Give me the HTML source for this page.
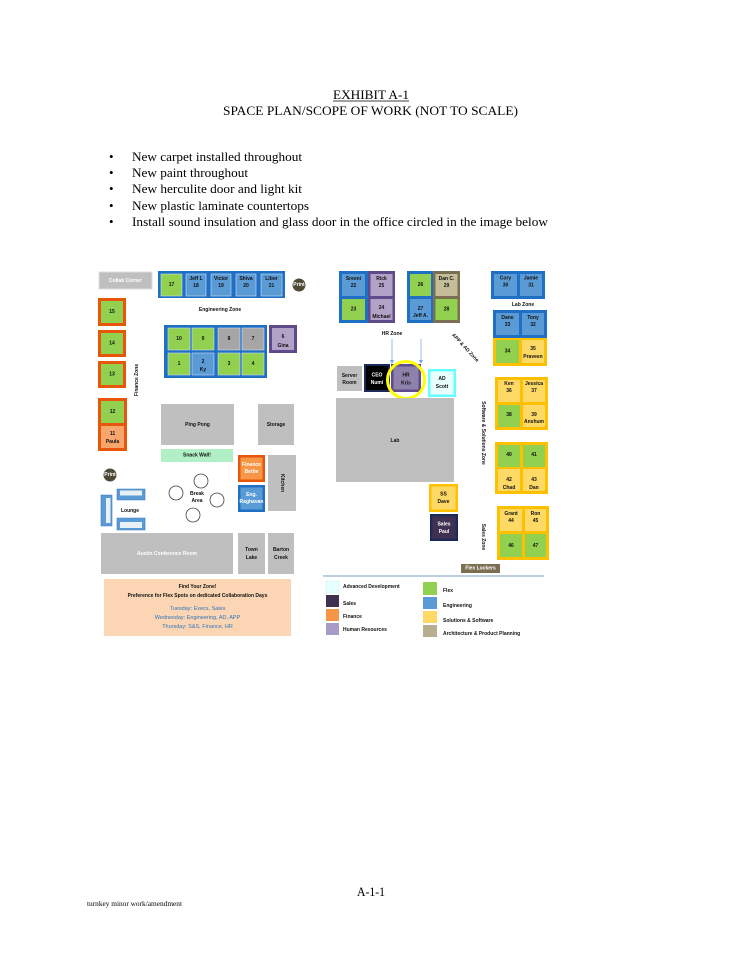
<!DOCTYPE html>
<html><head><meta charset="utf-8"><style>
html,body{margin:0;padding:0;background:#fff;}
svg{display:block;}
.s{font-family:"Liberation Serif",serif;fill:#000;}
.t{font-family:"Liberation Sans",sans-serif;font-size:5px;font-weight:bold;text-anchor:middle;dominant-baseline:central;fill:#111;}
.w{fill:#fff;}
.l{font-family:"Liberation Sans",sans-serif;font-size:5px;font-weight:bold;dominant-baseline:central;fill:#111;}
.b{fill:#2e75b6;font-weight:normal;font-size:5.5px;}
</style></head><body>
<svg width="742" height="960" viewBox="0 0 742 960" xmlns="http://www.w3.org/2000/svg">
<!-- Header -->
<text class="s" x="371" y="99" font-size="13" text-anchor="middle" textLength="76" lengthAdjust="spacingAndGlyphs">EXHIBIT A-1</text>
<line x1="333" y1="101" x2="409" y2="101" stroke="#000" stroke-width="0.8"/>
<text class="s" x="223" y="115" font-size="13" textLength="295" lengthAdjust="spacingAndGlyphs">SPACE PLAN/SCOPE OF WORK (NOT TO SCALE)</text>
<g class="s" font-size="13">
<text x="109" y="161">•</text><text x="132" y="161" textLength="170" lengthAdjust="spacingAndGlyphs">New carpet installed throughout</text>
<text x="109" y="177">•</text><text x="132" y="177" textLength="116" lengthAdjust="spacingAndGlyphs">New paint throughout</text>
<text x="109" y="193">•</text><text x="132" y="193" textLength="170" lengthAdjust="spacingAndGlyphs">New herculite door and light kit</text>
<text x="109" y="210">•</text><text x="132" y="210" textLength="177" lengthAdjust="spacingAndGlyphs">New plastic laminate countertops</text>
<text x="109" y="226">•</text><text x="132" y="226" textLength="416" lengthAdjust="spacingAndGlyphs">Install sound insulation and glass door in the office circled in the image below</text>
</g>
<!-- Footer -->
<text class="s" x="357" y="896" font-size="13" textLength="28" lengthAdjust="spacingAndGlyphs">A-1-1</text>
<text class="s" x="87" y="906" font-size="7" textLength="95" lengthAdjust="spacingAndGlyphs">turnkey minor work/amendment</text>

<!-- LEFT PLAN -->
<rect x="99" y="272" width="53" height="17" fill="#bfbfbf" stroke="#dcdcdc" stroke-width="1"/>
<text class="t w" x="125.5" y="281">Collab Corner</text>
<!-- top strip -->
<rect x="158" y="271" width="127" height="27" fill="#1f6fc5"/>
<g stroke="#cfe0f0" stroke-width="0.6">
<rect x="161" y="274" width="21" height="22" fill="#92d050"/>
<rect x="186" y="274" width="20" height="22" fill="#5b9bd5"/>
<rect x="211" y="274" width="20" height="22" fill="#5b9bd5"/>
<rect x="236" y="274" width="20" height="22" fill="#5b9bd5"/>
<rect x="261" y="274" width="21" height="22" fill="#5b9bd5"/>
</g>
<text class="t" x="171.5" y="285">17</text>
<text class="t" x="196" y="279">Jeff L</text><text class="t" x="196" y="286">18</text>
<text class="t" x="221" y="279">Victor</text><text class="t" x="221" y="286">19</text>
<text class="t" x="246" y="279">Shiva</text><text class="t" x="246" y="286">20</text>
<text class="t" x="271.5" y="279">Libor</text><text class="t" x="271.5" y="286">21</text>
<circle cx="299" cy="285" r="6.5" fill="#4f4a36"/>
<text class="t w" x="299" y="285" font-size="3.5">Print</text>
<text class="t" x="220" y="310" font-size="5.5">Engineering Zone</text>
<!-- finance column -->
<rect x="98" y="298" width="28" height="28" fill="#e8560c"/><rect x="101" y="301" width="22" height="22" fill="#92d050"/>
<text class="t" x="112" y="312">15</text>
<rect x="98" y="330" width="28" height="27" fill="#e8560c"/><rect x="101" y="333" width="22" height="21" fill="#92d050"/>
<text class="t" x="112" y="343.5">14</text>
<rect x="98" y="361" width="28" height="27" fill="#e8560c"/><rect x="101" y="364" width="22" height="21" fill="#92d050"/>
<text class="t" x="112" y="374.5">13</text>
<rect x="98" y="398" width="29" height="53" fill="#e8560c"/>
<rect x="101" y="401" width="23" height="22" fill="#92d050"/>
<rect x="101" y="426" width="23" height="22" fill="#f9a66c"/>
<text class="t" x="112.5" y="412">12</text>
<text class="t" x="112.5" y="434">11</text><text class="t" x="112.5" y="442">Paula</text>
<text class="t" x="137" y="380" font-size="5.5" transform="rotate(-90 137 380)">Finance Zone</text>
<!-- eng block -->
<rect x="164" y="325" width="103" height="53" fill="#1f6fc5"/>
<g stroke="#cfe0f0" stroke-width="0.6">
<rect x="168" y="328" width="22" height="22" fill="#92d050"/>
<rect x="192" y="328" width="22" height="22" fill="#92d050"/>
<rect x="218" y="328" width="22" height="22" fill="#a6a6a6"/>
<rect x="242" y="328" width="22" height="22" fill="#a6a6a6"/>
<rect x="168" y="353" width="22" height="22" fill="#92d050"/>
<rect x="192" y="353" width="22" height="22" fill="#5b9bd5"/>
<rect x="218" y="353" width="22" height="22" fill="#92d050"/>
<rect x="242" y="353" width="22" height="22" fill="#92d050"/>
</g>
<text class="t" x="179" y="339">10</text><text class="t" x="203" y="339">9</text>
<text class="t" x="229" y="339">8</text><text class="t" x="253" y="339">7</text>
<text class="t" x="179" y="364">1</text><text class="t" x="203" y="362">2</text><text class="t" x="203" y="370">Ky</text>
<text class="t" x="229" y="364">3</text><text class="t" x="253" y="364">4</text>
<rect x="269" y="325" width="28" height="28" fill="#5f4b8b"/><rect x="272" y="328" width="22" height="22" fill="#b3a2c7"/>
<text class="t" x="283" y="337">6</text><text class="t" x="283" y="346">Gina</text>
<!-- rooms -->
<rect x="161" y="404" width="73" height="41" fill="#bfbfbf"/>
<text class="t" x="197.5" y="425">Ping Pong</text>
<rect x="258" y="404" width="36" height="41" fill="#bfbfbf"/>
<text class="t" x="276" y="425">Storage</text>
<rect x="161" y="449" width="72" height="13" fill="#b1f0c5"/>
<text class="t" x="197" y="455.5">Snack Wall!</text>
<rect x="238" y="455" width="27" height="27" fill="#e8560c"/><rect x="240.5" y="457.5" width="22" height="22" fill="#f79646"/>
<text class="t w" x="251.5" y="465">Finance</text><text class="t w" x="251.5" y="472">Bettie</text>
<rect x="238" y="485" width="27" height="27" fill="#1f6fc5"/><rect x="240.5" y="487.5" width="22" height="22" fill="#5b9bd5"/>
<text class="t w" x="251.5" y="495">Eng.</text><text class="t w" x="251.5" y="502" font-size="3.5">Raghavan</text>
<rect x="268" y="455" width="28" height="56" fill="#bfbfbf"/>
<text class="t" x="282" y="483" transform="rotate(90 282 483)">Kitchen</text>
<!-- break area -->
<g fill="#fff" stroke="#404040" stroke-width="0.8">
<circle cx="201" cy="481" r="7"/><circle cx="176" cy="493" r="7"/>
<circle cx="217" cy="500" r="7"/><circle cx="193" cy="515" r="7"/>
</g>
<text class="t" x="197" y="494" font-weight="normal">Break</text><text class="t" x="197" y="501" font-weight="normal">Area</text>
<!-- print 2 -->
<circle cx="110" cy="475" r="6.5" fill="#4f4a36"/>
<text class="t w" x="110" y="475" font-size="3.5">Print</text>
<!-- lounge -->
<g fill="#5b9bd5" stroke="#3a78bd" stroke-width="0.6">
<path d="M117 489 h28 v11 h-28 z"/>
<path d="M101 495 h11 v31 h-11 z"/>
<path d="M117 518 h28 v12 h-28 z"/>
</g>
<rect x="120" y="490.5" width="22" height="5" fill="#e8f0f8"/>
<rect x="106" y="498" width="4.5" height="25" fill="#e8f0f8"/>
<rect x="120" y="522" width="22" height="6" fill="#e8f0f8"/>
<text class="t" x="130" y="511">Lounge</text>
<!-- conference -->
<rect x="101" y="533" width="132" height="41" fill="#bfbfbf"/>
<text class="t w" x="167" y="554">Austin Conference Room</text>
<rect x="238" y="533" width="27" height="41" fill="#bfbfbf"/>
<text class="t" x="251.5" y="550">Town</text><text class="t" x="251.5" y="558">Lake</text>
<rect x="268" y="533" width="26" height="41" fill="#bfbfbf"/>
<text class="t" x="281" y="550">Barton</text><text class="t" x="281" y="558">Creek</text>
<!-- find your zone -->
<rect x="104" y="579" width="187" height="57" fill="#fcd5b4"/>
<text class="t" x="197.5" y="587" font-size="5.5">Find Your Zone!</text>
<text class="t" x="197.5" y="596" font-size="5.5">Preference for Flex Spots on dedicated Collaboration Days</text>
<text class="t b" x="197.5" y="609">Tuesday: Execs, Sales</text>
<text class="t b" x="197.5" y="618">Wednesday: Engineering, AD, APP</text>
<text class="t b" x="197.5" y="627">Thursday: S&amp;S, Finance, HR</text>

<!-- RIGHT PLAN -->
<rect x="339" y="271" width="29" height="52" fill="#1f6fc5"/>
<rect x="342" y="274" width="23" height="22" fill="#5b9bd5"/><rect x="342" y="299" width="23" height="21" fill="#92d050"/>
<text class="t" x="353.5" y="279">Sreeni</text><text class="t" x="353.5" y="286">22</text>
<text class="t" x="353.5" y="309.5">23</text>
<rect x="368" y="271" width="27" height="52" fill="#5f4b8b"/>
<rect x="370.5" y="274" width="22" height="22" fill="#b3a2c7"/><rect x="370.5" y="299" width="22" height="21" fill="#b3a2c7"/>
<text class="t" x="381.5" y="279">Rick</text><text class="t" x="381.5" y="286">25</text>
<text class="t" x="381.5" y="308">24</text><text class="t" x="381.5" y="317">Michael</text>
<rect x="407" y="271" width="26" height="52" fill="#1f6fc5"/>
<rect x="410" y="274" width="21" height="22" fill="#92d050"/><rect x="410" y="299" width="21" height="21" fill="#5b9bd5"/>
<text class="t" x="420.5" y="285">26</text>
<text class="t" x="420.5" y="309">27</text><text class="t" x="420.5" y="316">Jeff A.</text>
<rect x="433" y="271" width="27" height="52" fill="#7b6f52"/>
<rect x="435.5" y="274" width="22" height="22" fill="#c4bd97"/><rect x="435.5" y="299" width="22" height="21" fill="#92d050"/>
<text class="t" x="446.5" y="279">Dan C.</text><text class="t" x="446.5" y="286">29</text>
<text class="t" x="446.5" y="309.5">28</text>
<rect x="491" y="271" width="54" height="28" fill="#1f6fc5"/>
<rect x="494" y="274" width="23" height="22" fill="#5b9bd5"/><rect x="520" y="274" width="22" height="22" fill="#5b9bd5"/>
<text class="t" x="505.5" y="278.5">Cory</text><text class="t" x="505.5" y="285.5">30</text>
<text class="t" x="531" y="278.5">Jamie</text><text class="t" x="531" y="285.5">31</text>
<text class="t" x="523" y="305">Lab Zone</text>
<rect x="493" y="310" width="54" height="28" fill="#1f6fc5"/>
<rect x="496" y="313" width="23" height="22" fill="#5b9bd5"/><rect x="522" y="313" width="22" height="22" fill="#5b9bd5"/>
<text class="t" x="507.5" y="318">Dane</text><text class="t" x="507.5" y="325">33</text>
<text class="t" x="533" y="318">Tony</text><text class="t" x="533" y="325">32</text>
<rect x="493" y="338" width="54" height="28" fill="#ffc000"/>
<rect x="496" y="340" width="23" height="23" fill="#92d050"/><rect x="522" y="340" width="22" height="23" fill="#ffd966"/>
<text class="t" x="507.5" y="351.5">34</text>
<text class="t" x="533" y="349">35</text><text class="t" x="533" y="357">Praveen</text>
<!-- HR zone -->
<text class="t" x="392" y="334">HR Zone</text>
<g stroke="#6fa8dc" stroke-width="0.7" fill="#6fa8dc">
<line x1="392" y1="339" x2="392" y2="361"/><path d="M390 360 L392 364 L394 360 z" stroke="none"/>
<line x1="421" y1="339" x2="421" y2="361"/><path d="M419 360 L421 364 L423 360 z" stroke="none"/>
</g>
<text class="t" x="465" y="348" transform="rotate(47 465 348)">APP &amp; AD Zone</text>
<rect x="337" y="366" width="25" height="25" fill="#bfbfbf"/>
<text class="t" x="349.5" y="376">Server</text><text class="t" x="349.5" y="383">Room</text>
<rect x="364" y="364" width="26" height="28" fill="#1c2a5a"/><rect x="366" y="366" width="22" height="24" fill="#000"/>
<text class="t w" x="377" y="375.5">CEO</text><text class="t w" x="377" y="383">Numi</text>
<rect x="391" y="364" width="30" height="28" fill="#5f4b8b"/><rect x="393.5" y="366.5" width="25" height="23" fill="#8e82ad"/>
<text class="t" x="406" y="375.5" fill="#eee">HR</text><text class="t" x="406" y="383.5" fill="#eee">Kris</text>
<circle cx="406" cy="380" r="18.5" fill="none" stroke="#ffff00" stroke-width="3"/>
<rect x="428" y="369" width="28" height="28" fill="#66ffff"/><rect x="430.5" y="371.5" width="23" height="23" fill="#eaffff"/>
<text class="t" x="442" y="379">AD</text><text class="t" x="442" y="387">Scott</text>
<rect x="336" y="398" width="118" height="84" fill="#bfbfbf"/>
<text class="t" x="395" y="441">Lab</text>
<text class="t" x="483" y="433" font-size="5.5" transform="rotate(90 483 433)">Software &amp; Solutions Zone</text>
<!-- Ken block -->
<rect x="495" y="377" width="53" height="53" fill="#ffc000"/>
<rect x="498" y="380" width="22" height="22" fill="#ffd966"/><rect x="523" y="380" width="22" height="22" fill="#ffd966"/>
<rect x="498" y="405" width="22" height="22" fill="#92d050"/><rect x="523" y="405" width="22" height="22" fill="#ffd966"/>
<text class="t" x="509" y="384">Ken</text><text class="t" x="509" y="391">36</text>
<text class="t" x="534" y="384">Jessica</text><text class="t" x="534" y="391">37</text>
<text class="t" x="509" y="415">38</text>
<text class="t" x="534" y="415">39</text><text class="t" x="534" y="422">Anshum</text>
<rect x="495" y="442" width="53" height="52" fill="#ffc000"/>
<rect x="498" y="445" width="22" height="22" fill="#92d050"/><rect x="523" y="445" width="22" height="22" fill="#92d050"/>
<rect x="498" y="469" width="22" height="22" fill="#ffd966"/><rect x="523" y="469" width="22" height="22" fill="#ffd966"/>
<text class="t" x="509" y="455">40</text><text class="t" x="534" y="455">41</text>
<text class="t" x="509" y="480">42</text><text class="t" x="509" y="488">Chad</text>
<text class="t" x="534" y="480">43</text><text class="t" x="534" y="488">Dan</text>
<rect x="429" y="484" width="29" height="28" fill="#ffc000"/><rect x="431.5" y="486.5" width="24" height="23" fill="#ffd966"/>
<text class="t" x="443.5" y="494.5">SS</text><text class="t" x="443.5" y="502">Dave</text>
<rect x="430" y="514" width="28" height="27" fill="#1c2a5a"/><rect x="432.5" y="516.5" width="23" height="22" fill="#403152"/>
<text class="t w" x="444" y="524.5">Sales</text><text class="t w" x="444" y="532">Paul</text>
<rect x="497" y="506" width="52" height="54" fill="#ffc000"/>
<rect x="500" y="509" width="22" height="22" fill="#ffd966"/><rect x="525" y="509" width="21" height="22" fill="#ffd966"/>
<rect x="500" y="534" width="22" height="23" fill="#92d050"/><rect x="525" y="534" width="21" height="23" fill="#92d050"/>
<text class="t" x="511" y="514">Grant</text><text class="t" x="511" y="521">44</text>
<text class="t" x="535.5" y="514">Ron</text><text class="t" x="535.5" y="521">45</text>
<text class="t" x="511" y="546">46</text><text class="t" x="535.5" y="546">47</text>
<text class="t" x="483" y="537" transform="rotate(90 483 537)">Sales Zone</text>
<rect x="461" y="564" width="39" height="9" fill="#7b6f52"/>
<text class="t w" x="480.5" y="568.5">Flex Lockers</text>
<line x1="323" y1="576" x2="544" y2="576" stroke="#a9bcd6" stroke-width="1.5"/>
<!-- legend -->
<rect x="326" y="581" width="13" height="12" fill="#e6ffff" stroke="#d0f0f0" stroke-width="0.5"/>
<text class="l" x="343" y="587">Advanced Development</text>
<rect x="326" y="595" width="13" height="12" fill="#403152"/>
<text class="l" x="343" y="604">Sales</text>
<rect x="326" y="609" width="13" height="12" fill="#f79646"/>
<text class="l" x="343" y="617">Finance</text>
<rect x="326" y="623" width="13" height="12" fill="#a99cc4"/>
<text class="l" x="343" y="630">Human Resources</text>
<rect x="423" y="582" width="14" height="13" fill="#92d050"/>
<text class="l" x="443" y="591">Flex</text>
<rect x="423" y="597" width="14" height="12" fill="#5b9bd5"/>
<text class="l" x="443" y="606">Engineering</text>
<rect x="423" y="611" width="14" height="12" fill="#ffd966"/>
<text class="l" x="443" y="621">Solutions &amp; Software</text>
<rect x="423" y="625" width="14" height="12" fill="#b6ae8e"/>
<text class="l" x="443" y="634">Architecture &amp; Product Planning</text>
</svg>
</body></html>
